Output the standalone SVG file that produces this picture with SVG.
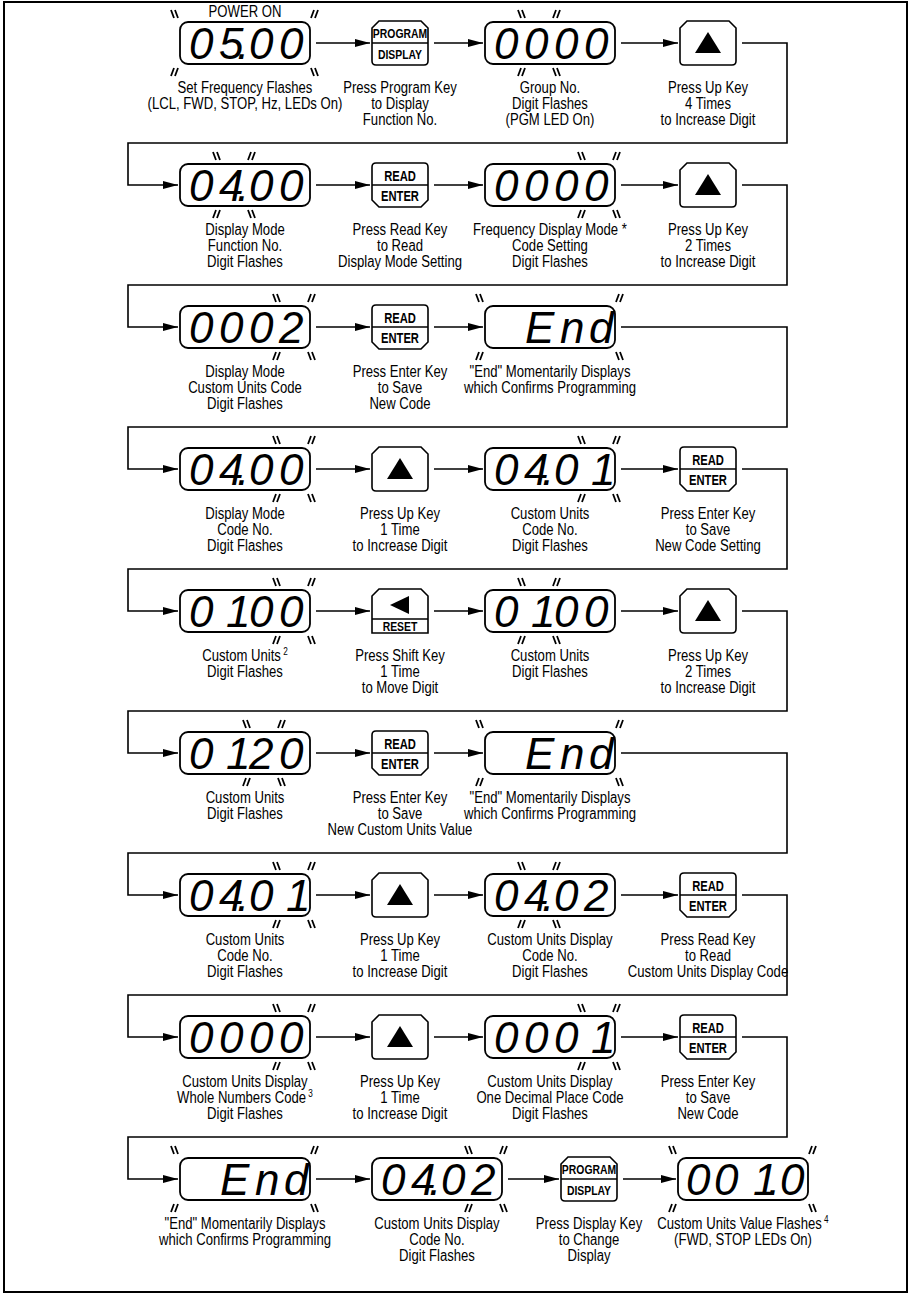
<svg xmlns="http://www.w3.org/2000/svg" width="911" height="1295" viewBox="0 0 911 1295">
<style>
.frame{fill:none;stroke:#000;stroke-width:2}
.disp{fill:#fff;stroke:#000;stroke-width:1.8}
.key{fill:#fff;stroke:#000;stroke-width:1.6}
.div{stroke:#000;stroke-width:1.4}
.con{fill:none;stroke:#000;stroke-width:1.6}
.seg{font-family:'Liberation Sans',Arial,sans-serif;font-style:italic;font-size:44px;fill:#000}
.cap{font-family:'Liberation Sans Narrow','Liberation Sans',Arial,sans-serif;font-size:16px;fill:#000;text-anchor:middle}
.kl{font-family:'Liberation Sans Narrow','Liberation Sans',Arial,sans-serif;font-weight:bold;font-size:14px;text-anchor:middle;fill:#000}
.ks{font-family:'Liberation Sans Narrow','Liberation Sans',Arial,sans-serif;font-weight:bold;font-size:13px;text-anchor:middle;fill:#000}
.sup{font-size:10px}
.fl{fill:none;stroke:#000;stroke-width:1.8}
.tri{fill:#000}
</style>
<defs>
<marker id="ah" markerWidth="16" markerHeight="10" refX="15" refY="5" orient="auto" markerUnits="userSpaceOnUse"><path d="M0,1 L15,5 L0,9 Z" fill="#000"/></marker>
<path id="kTop" d="M7,0 H49 L56,7 V40 Q56,44 52,44 H4 Q0,44 0,40 V7 Z"/>
<path id="kEnt" d="M4,0 H52 Q56,0 56,4 V37 L49,44 H7 L0,37 V4 Q0,0 4,0 Z"/>
<path id="kSh" d="M7,0 H49 L56,7 V44 H0 V7 Z"/>
<path id="mb" class="fl" d="M-4,-4 L-1,4 M0,-4 L3,4"/>
<path id="mf" class="fl" d="M-1,-4 L-4,4 M3,-4 L0,4"/>
</defs>
<rect class="frame" x="4" y="2" width="903" height="1290"/>

<g id="connectors">
<path class="con" d="M316,43 H370" marker-end="url(#ah)"/>
<path class="con" d="M434,43 H483" marker-end="url(#ah)"/>
<path class="con" d="M621,43 H678" marker-end="url(#ah)"/>
<path class="con" d="M742,43 H787 V143 H128 V185 H178" marker-end="url(#ah)"/>

<path class="con" d="M316,185 H370" marker-end="url(#ah)"/>
<path class="con" d="M434,185 H483" marker-end="url(#ah)"/>
<path class="con" d="M621,185 H678" marker-end="url(#ah)"/>
<path class="con" d="M742,185 H787 V285 H128 V327 H178" marker-end="url(#ah)"/>

<path class="con" d="M316,327 H370" marker-end="url(#ah)"/>
<path class="con" d="M434,327 H483" marker-end="url(#ah)"/>
<path class="con" d="M621,327 H787 V427 H128 V469 H178" marker-end="url(#ah)"/>

<path class="con" d="M316,469 H370" marker-end="url(#ah)"/>
<path class="con" d="M434,469 H483" marker-end="url(#ah)"/>
<path class="con" d="M621,469 H678" marker-end="url(#ah)"/>
<path class="con" d="M742,469 H787 V569 H128 V611 H178" marker-end="url(#ah)"/>

<path class="con" d="M316,611 H370" marker-end="url(#ah)"/>
<path class="con" d="M434,611 H483" marker-end="url(#ah)"/>
<path class="con" d="M621,611 H678" marker-end="url(#ah)"/>
<path class="con" d="M742,611 H787 V711 H128 V753 H178" marker-end="url(#ah)"/>

<path class="con" d="M316,753 H370" marker-end="url(#ah)"/>
<path class="con" d="M434,753 H483" marker-end="url(#ah)"/>
<path class="con" d="M621,753 H787 V853 H128 V895 H178" marker-end="url(#ah)"/>

<path class="con" d="M316,895 H370" marker-end="url(#ah)"/>
<path class="con" d="M434,895 H483" marker-end="url(#ah)"/>
<path class="con" d="M621,895 H678" marker-end="url(#ah)"/>
<path class="con" d="M742,895 H787 V995 H128 V1037 H178" marker-end="url(#ah)"/>

<path class="con" d="M316,1037 H370" marker-end="url(#ah)"/>
<path class="con" d="M434,1037 H483" marker-end="url(#ah)"/>
<path class="con" d="M621,1037 H678" marker-end="url(#ah)"/>
<path class="con" d="M742,1037 H787 V1137 H128 V1179 H178" marker-end="url(#ah)"/>

<path class="con" d="M316,1179 H370" marker-end="url(#ah)"/>
<path class="con" d="M508,1179 H559" marker-end="url(#ah)"/>
<path class="con" d="M623,1179 H676" marker-end="url(#ah)"/>
</g>

<!-- Row 1 -->
<g id="r1a">
<text class="cap" transform="translate(245,17) scale(.82,1)">POWER ON</text>
<rect class="disp" x="180" y="22" width="130" height="42" rx="8"/>
<text class="seg" x="189 219 237 249 279" y="59">05.00</text>
<use href="#mb" x="175" y="14"/><use href="#mf" x="315" y="14"/><use href="#mf" x="175" y="72"/><use href="#mb" x="315" y="72"/>
<text class="cap" transform="translate(245,93) scale(.82,1)"><tspan x="0">Set Frequency Flashes</tspan><tspan x="0" dy="16">(LCL, FWD, STOP, Hz, LEDs On)</tspan></text>
</g>
<g id="r1b">
<use href="#kTop" class="key" x="372" y="21"/>
<line class="div" x1="372" y1="43" x2="428" y2="43"/>
<text class="ks" transform="translate(400,38) scale(.8,1)">PROGRAM</text><text class="ks" transform="translate(400,59) scale(.8,1)">DISPLAY</text>
<text class="cap" transform="translate(400,93) scale(.82,1)"><tspan x="0">Press Program Key</tspan><tspan x="0" dy="16">to Display</tspan><tspan x="0" dy="16">Function No.</tspan></text>
</g>
<g id="r1c">
<rect class="disp" x="485" y="22" width="130" height="42" rx="8"/>
<text class="seg" x="494 524 554 584" y="59">0000</text>
<use href="#mb" x="522" y="14"/><use href="#mf" x="557" y="14"/><use href="#mf" x="522" y="72"/><use href="#mb" x="557" y="72"/>
<text class="cap" transform="translate(550,93) scale(.82,1)"><tspan x="0">Group No.</tspan><tspan x="0" dy="16">Digit Flashes</tspan><tspan x="0" dy="16">(PGM LED On)</tspan></text>
</g>
<g id="r1d">
<use href="#kTop" class="key" x="680" y="21"/>
<polygon class="tri" points="695,53 721,53 708,32"/>
<text class="cap" transform="translate(708,93) scale(.82,1)"><tspan x="0">Press Up Key</tspan><tspan x="0" dy="16">4 Times</tspan><tspan x="0" dy="16">to Increase Digit</tspan></text>
</g>

<!-- Row 2 -->
<g id="r2a">
<rect class="disp" x="180" y="164" width="130" height="42" rx="8"/>
<text class="seg" x="189 219 237 249 279" y="201">04.00</text>
<use href="#mb" x="217" y="156"/><use href="#mf" x="252" y="156"/><use href="#mf" x="217" y="214"/><use href="#mb" x="252" y="214"/>
<text class="cap" transform="translate(245,235) scale(.82,1)"><tspan x="0">Display Mode</tspan><tspan x="0" dy="16">Function No.</tspan><tspan x="0" dy="16">Digit Flashes</tspan></text>
</g>
<g id="r2b">
<use href="#kEnt" class="key" x="372" y="163"/>
<line class="div" x1="372" y1="185" x2="428" y2="185"/>
<text class="kl" transform="translate(400,181) scale(.8,1)">READ</text><text class="kl" transform="translate(400,201) scale(.8,1)">ENTER</text>
<text class="cap" transform="translate(400,235) scale(.82,1)"><tspan x="0">Press Read Key</tspan><tspan x="0" dy="16">to Read</tspan><tspan x="0" dy="16">Display Mode Setting</tspan></text>
</g>
<g id="r2c">
<rect class="disp" x="485" y="164" width="130" height="42" rx="8"/>
<text class="seg" x="494 524 554 584" y="201">0000</text>
<use href="#mb" x="582" y="156"/><use href="#mf" x="617" y="156"/><use href="#mf" x="582" y="214"/><use href="#mb" x="617" y="214"/>
<text class="cap" transform="translate(550,235) scale(.82,1)"><tspan x="0">Frequency Display Mode *</tspan><tspan x="0" dy="16">Code Setting</tspan><tspan x="0" dy="16">Digit Flashes</tspan></text>
</g>
<g id="r2d">
<use href="#kTop" class="key" x="680" y="163"/>
<polygon class="tri" points="695,195 721,195 708,174"/>
<text class="cap" transform="translate(708,235) scale(.82,1)"><tspan x="0">Press Up Key</tspan><tspan x="0" dy="16">2 Times</tspan><tspan x="0" dy="16">to Increase Digit</tspan></text>
</g>

<!-- Row 3 -->
<g id="r3a">
<rect class="disp" x="180" y="306" width="130" height="42" rx="8"/>
<text class="seg" x="189 219 249 279" y="343">0002</text>
<use href="#mb" x="277" y="298"/><use href="#mf" x="312" y="298"/><use href="#mf" x="277" y="356"/><use href="#mb" x="312" y="356"/>
<text class="cap" transform="translate(245,377) scale(.82,1)"><tspan x="0">Display Mode</tspan><tspan x="0" dy="16">Custom Units Code</tspan><tspan x="0" dy="16">Digit Flashes</tspan></text>
</g>
<g id="r3b">
<use href="#kEnt" class="key" x="372" y="305"/>
<line class="div" x1="372" y1="327" x2="428" y2="327"/>
<text class="kl" transform="translate(400,323) scale(.8,1)">READ</text><text class="kl" transform="translate(400,343) scale(.8,1)">ENTER</text>
<text class="cap" transform="translate(400,377) scale(.82,1)"><tspan x="0">Press Enter Key</tspan><tspan x="0" dy="16">to Save</tspan><tspan x="0" dy="16">New Code</tspan></text>
</g>
<g id="r3c">
<rect class="disp" x="485" y="306" width="130" height="42" rx="8"/>
<text class="seg" x="525 560 589" y="343">End</text>
<use href="#mb" x="480" y="298"/><use href="#mf" x="620" y="298"/><use href="#mf" x="480" y="356"/><use href="#mb" x="620" y="356"/>
<text class="cap" transform="translate(550,377) scale(.82,1)"><tspan x="0">"End" Momentarily Displays</tspan><tspan x="0" dy="16">which Confirms Programming</tspan></text>
</g>

<!-- Row 4 -->
<g id="r4a">
<rect class="disp" x="180" y="448" width="130" height="42" rx="8"/>
<text class="seg" x="189 219 237 249 279" y="485">04.00</text>
<use href="#mb" x="277" y="440"/><use href="#mf" x="312" y="440"/><use href="#mf" x="277" y="498"/><use href="#mb" x="312" y="498"/>
<text class="cap" transform="translate(245,519) scale(.82,1)"><tspan x="0">Display Mode</tspan><tspan x="0" dy="16">Code No.</tspan><tspan x="0" dy="16">Digit Flashes</tspan></text>
</g>
<g id="r4b">
<use href="#kTop" class="key" x="372" y="447"/>
<polygon class="tri" points="387,479 413,479 400,458"/>
<text class="cap" transform="translate(400,519) scale(.82,1)"><tspan x="0">Press Up Key</tspan><tspan x="0" dy="16">1 Time</tspan><tspan x="0" dy="16">to Increase Digit</tspan></text>
</g>
<g id="r4c">
<rect class="disp" x="485" y="448" width="130" height="42" rx="8"/>
<text class="seg" x="494 524 542 554 576 591" y="485">04.0 1</text>
<use href="#mb" x="582" y="440"/><use href="#mf" x="617" y="440"/><use href="#mf" x="582" y="498"/><use href="#mb" x="617" y="498"/>
<text class="cap" transform="translate(550,519) scale(.82,1)"><tspan x="0">Custom Units</tspan><tspan x="0" dy="16">Code No.</tspan><tspan x="0" dy="16">Digit Flashes</tspan></text>
</g>
<g id="r4d">
<use href="#kEnt" class="key" x="680" y="447"/>
<line class="div" x1="680" y1="469" x2="736" y2="469"/>
<text class="kl" transform="translate(708,465) scale(.8,1)">READ</text><text class="kl" transform="translate(708,485) scale(.8,1)">ENTER</text>
<text class="cap" transform="translate(708,519) scale(.82,1)"><tspan x="0">Press Enter Key</tspan><tspan x="0" dy="16">to Save</tspan><tspan x="0" dy="16">New Code Setting</tspan></text>
</g>

<!-- Row 5 -->
<g id="r5a">
<rect class="disp" x="180" y="590" width="130" height="42" rx="8"/>
<text class="seg" x="189 205 226 249 279" y="627">0 100</text>
<use href="#mb" x="277" y="582"/><use href="#mf" x="312" y="582"/><use href="#mf" x="277" y="640"/><use href="#mb" x="312" y="640"/>
<text class="cap" transform="translate(245,661) scale(.82,1)"><tspan x="0">Custom Units<tspan class="sup" dy="-6"> 2</tspan></tspan><tspan x="0" dy="22">Digit Flashes</tspan></text>
</g>
<g id="r5b">
<use href="#kSh" class="key" x="372" y="589"/>
<polygon class="tri" points="390,605 409,596 409,614"/>
<line class="div" x1="372" y1="619" x2="428" y2="619"/>
<text class="ks" transform="translate(400,631) scale(.8,1)">RESET</text>
<text class="cap" transform="translate(400,661) scale(.82,1)"><tspan x="0">Press Shift Key</tspan><tspan x="0" dy="16">1 Time</tspan><tspan x="0" dy="16">to Move Digit</tspan></text>
</g>
<g id="r5c">
<rect class="disp" x="485" y="590" width="130" height="42" rx="8"/>
<text class="seg" x="494 510 531 554 584" y="627">0 100</text>
<use href="#mb" x="522" y="582"/><use href="#mf" x="557" y="582"/><use href="#mf" x="522" y="640"/><use href="#mb" x="557" y="640"/>
<text class="cap" transform="translate(550,661) scale(.82,1)"><tspan x="0">Custom Units</tspan><tspan x="0" dy="16">Digit Flashes</tspan></text>
</g>
<g id="r5d">
<use href="#kTop" class="key" x="680" y="589"/>
<polygon class="tri" points="695,621 721,621 708,600"/>
<text class="cap" transform="translate(708,661) scale(.82,1)"><tspan x="0">Press Up Key</tspan><tspan x="0" dy="16">2 Times</tspan><tspan x="0" dy="16">to Increase Digit</tspan></text>
</g>

<!-- Row 6 -->
<g id="r6a">
<rect class="disp" x="180" y="732" width="130" height="42" rx="8"/>
<text class="seg" x="189 205 226 249 279" y="769">0 120</text>
<use href="#mb" x="247" y="724"/><use href="#mf" x="282" y="724"/><use href="#mf" x="247" y="782"/><use href="#mb" x="282" y="782"/>
<text class="cap" transform="translate(245,803) scale(.82,1)"><tspan x="0">Custom Units</tspan><tspan x="0" dy="16">Digit Flashes</tspan></text>
</g>
<g id="r6b">
<use href="#kEnt" class="key" x="372" y="731"/>
<line class="div" x1="372" y1="753" x2="428" y2="753"/>
<text class="kl" transform="translate(400,749) scale(.8,1)">READ</text><text class="kl" transform="translate(400,769) scale(.8,1)">ENTER</text>
<text class="cap" transform="translate(400,803) scale(.82,1)"><tspan x="0">Press Enter Key</tspan><tspan x="0" dy="16">to Save</tspan><tspan x="0" dy="16">New Custom Units Value</tspan></text>
</g>
<g id="r6c">
<rect class="disp" x="485" y="732" width="130" height="42" rx="8"/>
<text class="seg" x="525 560 589" y="769">End</text>
<use href="#mb" x="480" y="724"/><use href="#mf" x="620" y="724"/><use href="#mf" x="480" y="782"/><use href="#mb" x="620" y="782"/>
<text class="cap" transform="translate(550,803) scale(.82,1)"><tspan x="0">"End" Momentarily Displays</tspan><tspan x="0" dy="16">which Confirms Programming</tspan></text>
</g>

<!-- Row 7 -->
<g id="r7a">
<rect class="disp" x="180" y="874" width="130" height="42" rx="8"/>
<text class="seg" x="189 219 237 249 271 286" y="911">04.0 1</text>
<use href="#mb" x="277" y="866"/><use href="#mf" x="312" y="866"/><use href="#mf" x="277" y="924"/><use href="#mb" x="312" y="924"/>
<text class="cap" transform="translate(245,945) scale(.82,1)"><tspan x="0">Custom Units</tspan><tspan x="0" dy="16">Code No.</tspan><tspan x="0" dy="16">Digit Flashes</tspan></text>
</g>
<g id="r7b">
<use href="#kTop" class="key" x="372" y="873"/>
<polygon class="tri" points="387,905 413,905 400,884"/>
<text class="cap" transform="translate(400,945) scale(.82,1)"><tspan x="0">Press Up Key</tspan><tspan x="0" dy="16">1 Time</tspan><tspan x="0" dy="16">to Increase Digit</tspan></text>
</g>
<g id="r7c">
<rect class="disp" x="485" y="874" width="130" height="42" rx="8"/>
<text class="seg" x="494 524 542 554 584" y="911">04.02</text>
<use href="#mb" x="522" y="866"/><use href="#mf" x="557" y="866"/><use href="#mf" x="522" y="924"/><use href="#mb" x="557" y="924"/>
<text class="cap" transform="translate(550,945) scale(.82,1)"><tspan x="0">Custom Units Display</tspan><tspan x="0" dy="16">Code No.</tspan><tspan x="0" dy="16">Digit Flashes</tspan></text>
</g>
<g id="r7d">
<use href="#kEnt" class="key" x="680" y="873"/>
<line class="div" x1="680" y1="895" x2="736" y2="895"/>
<text class="kl" transform="translate(708,891) scale(.8,1)">READ</text><text class="kl" transform="translate(708,911) scale(.8,1)">ENTER</text>
<text class="cap" transform="translate(708,945) scale(.82,1)"><tspan x="0">Press Read Key</tspan><tspan x="0" dy="16">to Read</tspan><tspan x="0" dy="16">Custom Units Display Code</tspan></text>
</g>

<!-- Row 8 -->
<g id="r8a">
<rect class="disp" x="180" y="1016" width="130" height="42" rx="8"/>
<text class="seg" x="189 219 249 279" y="1053">0000</text>
<use href="#mb" x="277" y="1008"/><use href="#mf" x="312" y="1008"/><use href="#mf" x="277" y="1066"/><use href="#mb" x="312" y="1066"/>
<text class="cap" transform="translate(245,1087) scale(.82,1)"><tspan x="0">Custom Units Display</tspan><tspan x="0" dy="16">Whole Numbers Code<tspan class="sup" dy="-6"> 3</tspan></tspan><tspan x="0" dy="22">Digit Flashes</tspan></text>
</g>
<g id="r8b">
<use href="#kTop" class="key" x="372" y="1015"/>
<polygon class="tri" points="387,1047 413,1047 400,1026"/>
<text class="cap" transform="translate(400,1087) scale(.82,1)"><tspan x="0">Press Up Key</tspan><tspan x="0" dy="16">1 Time</tspan><tspan x="0" dy="16">to Increase Digit</tspan></text>
</g>
<g id="r8c">
<rect class="disp" x="485" y="1016" width="130" height="42" rx="8"/>
<text class="seg" x="494 524 554 591" y="1053">0001</text>
<use href="#mb" x="582" y="1008"/><use href="#mf" x="617" y="1008"/><use href="#mf" x="582" y="1066"/><use href="#mb" x="617" y="1066"/>
<text class="cap" transform="translate(550,1087) scale(.82,1)"><tspan x="0">Custom Units Display</tspan><tspan x="0" dy="16">One Decimal Place Code</tspan><tspan x="0" dy="16">Digit Flashes</tspan></text>
</g>
<g id="r8d">
<use href="#kEnt" class="key" x="680" y="1015"/>
<line class="div" x1="680" y1="1037" x2="736" y2="1037"/>
<text class="kl" transform="translate(708,1033) scale(.8,1)">READ</text><text class="kl" transform="translate(708,1053) scale(.8,1)">ENTER</text>
<text class="cap" transform="translate(708,1087) scale(.82,1)"><tspan x="0">Press Enter Key</tspan><tspan x="0" dy="16">to Save</tspan><tspan x="0" dy="16">New Code</tspan></text>
</g>

<!-- Row 9 -->
<g id="r9a">
<rect class="disp" x="180" y="1158" width="130" height="42" rx="8"/>
<text class="seg" x="220 255 284" y="1195">End</text>
<use href="#mb" x="175" y="1150"/><use href="#mf" x="315" y="1150"/><use href="#mf" x="175" y="1208"/><use href="#mb" x="315" y="1208"/>
<text class="cap" transform="translate(245,1229) scale(.82,1)"><tspan x="0">"End" Momentarily Displays</tspan><tspan x="0" dy="16">which Confirms Programming</tspan></text>
</g>
<g id="r9b">
<rect class="disp" x="372" y="1158" width="130" height="42" rx="8"/>
<text class="seg" x="381 411 429 441 471" y="1195">04.02</text>
<use href="#mb" x="469" y="1150"/><use href="#mf" x="504" y="1150"/><use href="#mf" x="469" y="1208"/><use href="#mb" x="504" y="1208"/>
<text class="cap" transform="translate(437,1229) scale(.82,1)"><tspan x="0">Custom Units Display</tspan><tspan x="0" dy="16">Code No.</tspan><tspan x="0" dy="16">Digit Flashes</tspan></text>
</g>
<g id="r9c">
<use href="#kTop" class="key" x="561" y="1157"/>
<line class="div" x1="561" y1="1179" x2="617" y2="1179"/>
<text class="ks" transform="translate(589,1174) scale(.8,1)">PROGRAM</text><text class="ks" transform="translate(589,1195) scale(.8,1)">DISPLAY</text>
<text class="cap" transform="translate(589,1229) scale(.82,1)"><tspan x="0">Press Display Key</tspan><tspan x="0" dy="16">to Change</tspan><tspan x="0" dy="16">Display</tspan></text>
</g>
<g id="r9d">
<rect class="disp" x="678" y="1158" width="130" height="42" rx="8"/>
<text class="seg" x="686 714 738 753 768 780" y="1195">00 1.0</text>
<use href="#mb" x="673" y="1150"/><use href="#mf" x="813" y="1150"/><use href="#mf" x="673" y="1208"/><use href="#mb" x="813" y="1208"/>
<text class="cap" transform="translate(743,1229) scale(.82,1)"><tspan x="0">Custom Units Value Flashes<tspan class="sup" dy="-6"> 4</tspan></tspan><tspan x="0" dy="22">(FWD, STOP LEDs On)</tspan></text>
</g>
</svg>
